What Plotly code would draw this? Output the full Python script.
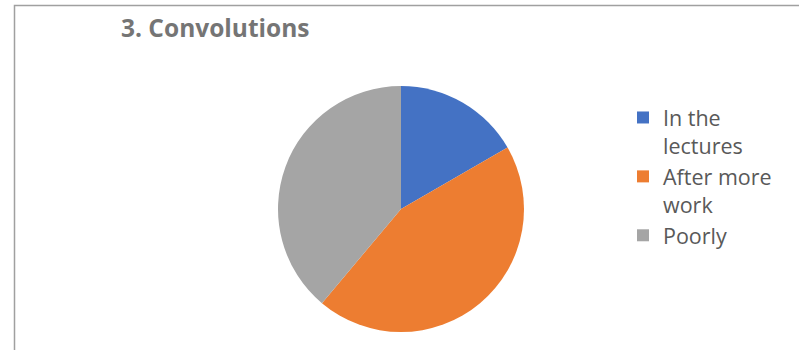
import plotly.graph_objects as go

categories = ["In the<br>lectures", "After more<br>work", "Poorly"]
values = [3, 8, 7]
colors = ["#4472C4", "#ED7D31", "#A5A5A5"]
title_text = "3. Convolutions"

W, H = 799, 350
cx, cy, r = 401, 209, 123

fig = go.Figure(go.Pie(
    labels=categories,
    values=values,
    sort=False,
    direction="clockwise",
    rotation=0,
    textinfo="none",
    hoverinfo="label+value",
    marker=dict(colors=colors, line=dict(width=0)),
    domain=dict(x=[(cx - r) / W, (cx + r) / W], y=[(H - cy - r) / H, (H - cy + r) / H]),
))

fig.update_layout(
    width=W, height=H,
    margin=dict(l=0, r=0, t=0, b=0),
    paper_bgcolor="white",
    font=dict(family="Open Sans, Liberation Sans, sans-serif", color="#595959"),
    showlegend=True,
    legend=dict(
        x=623 / W, y=1 - 97 / H, xanchor="left", yanchor="top",
        font=dict(size=21.5, color="#595959"),
        tracegroupgap=0,
        valign="top",
        bgcolor="rgba(0,0,0,0)",
    ),
    annotations=[dict(
        text="<b>" + title_text + "</b>", x=215 / W, y=1 - 27 / H,
        xref="paper", yref="paper", xanchor="center", yanchor="middle",
        showarrow=False, font=dict(size=24.5, color="#757575"),
    )],
    shapes=[dict(
        type="rect", xref="paper", yref="paper",
        x0=14.5 / W, x1=1.05, y0=-0.05, y1=1 - 5.5 / H,
        line=dict(color="#A0A0A0", width=1.5), fillcolor="rgba(0,0,0,0)",
    )],
)

fig.write_html("out.html", config={"displayModeBar": False},
               post_script="document.body.style.margin='0px';")
